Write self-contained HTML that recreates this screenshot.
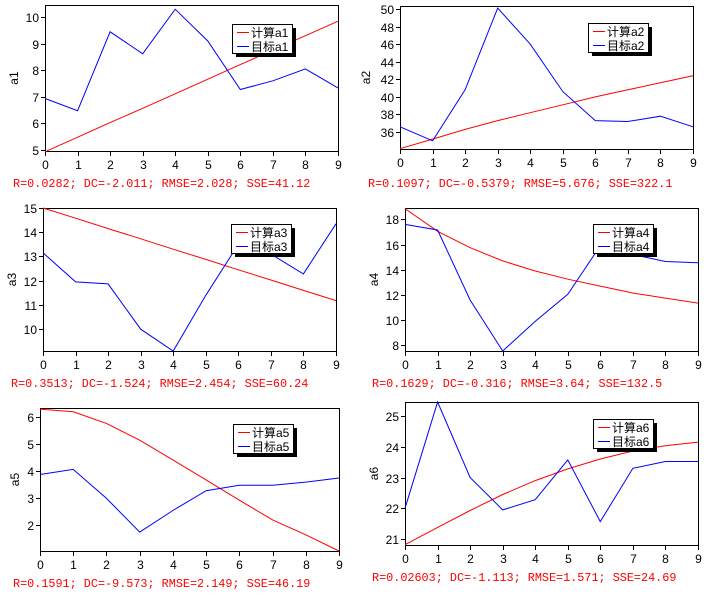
<!DOCTYPE html>
<html><head><meta charset="utf-8">
<style>
body{margin:0;background:#fff;}
svg{display:block;font-family:"Liberation Sans","Noto Sans CJK SC",sans-serif;}
line,rect{shape-rendering:crispEdges;}
</style></head>
<body>
<svg id="chart" width="722" height="605" viewBox="0 0 722 605" xmlns="http://www.w3.org/2000/svg"></svg>
<script>
const categories = [0,1,2,3,4,5,6,7,8,9];
const calcA1 = [4.92,5.47,6.02,6.56,7.11,7.66,8.21,8.76,9.30,9.85];
const targA1 = [6.93,6.47,9.45,8.62,10.3,9.1,7.27,7.6,8.05,7.33];
const calcA2 = [34.1,35.2,36.3,37.3,38.2,39.1,40.0,40.8,41.6,42.4];
const targA2 = [36.6,35.0,40.8,50.1,46.0,40.6,37.3,37.2,37.8,36.6];
const calcA3 = [15.0,14.58,14.15,13.73,13.3,12.88,12.45,12.03,11.6,11.18];
const targA3 = [13.15,11.95,11.87,10.0,9.1,11.4,13.5,13.1,12.28,14.35];
const calcA4 = [18.85,17.05,15.75,14.7,13.9,13.25,12.7,12.15,11.75,11.35];
const targA4 = [17.6,17.15,11.6,7.55,9.9,12.05,15.9,15.2,14.65,14.55];
const calcA5 = [6.3,6.2,5.77,5.15,4.42,3.68,2.93,2.2,1.65,1.05];
const targA5 = [3.88,4.07,3.0,1.75,2.55,3.28,3.48,3.48,3.6,3.75];
const calcA6 = [20.82,21.38,21.93,22.45,22.9,23.28,23.6,23.86,24.03,24.15];
const targA6 = [22.0,25.45,23.0,21.95,22.28,23.57,21.57,23.3,23.52,23.52];
const yTicks1 = [5,6,7,8,9,10];
const yTicks2 = [36,38,40,42,44,46,48,50];
const yTicks3 = [10,11,12,13,14,15];
const yTicks4 = [8,10,12,14,16,18];
const yTicks5 = [2,3,4,5,6];
const yTicks6 = [21,22,23,24,25];
const stats = ["R=0.0282; DC=-2.011; RMSE=2.028; SSE=41.12","R=0.1097; DC=-0.5379; RMSE=5.676; SSE=322.1","R=0.3513; DC=-1.524; RMSE=2.454; SSE=60.24","R=0.1629; DC=-0.316; RMSE=3.64; SSE=132.5","R=0.1591; DC=-9.573; RMSE=2.149; SSE=46.19","R=0.02603; DC=-1.113; RMSE=1.571; SSE=24.69"];
const names = ["a1","a2","a3","a4","a5","a6"];

const panels = [
 {L:45,R:338,T:5,B:151,ymin:4.95,ymax:10.46,ticks:yTicks1,c:calcA1,t:targA1,lg:[232,24],sx:13,sy:183,tx:18},
 {L:400,R:693,T:6,B:149,ymin:34.07,ymax:50.34,ticks:yTicks2,c:calcA2,t:targA2,lg:[588,23],sx:368,sy:183,tx:370},
 {L:43,R:336,T:208,B:351,ymin:9.1,ymax:15.0,ticks:yTicks3,c:calcA3,t:targA3,lg:[231,224],sx:11,sy:383,tx:16},
 {L:405,R:698,T:208,B:351,ymin:7.55,ymax:18.9,ticks:yTicks4,c:calcA4,t:targA4,lg:[593,224],sx:372,sy:383,tx:378},
 {L:40,R:339,T:408,B:551,ymin:1.05,ymax:6.34,ticks:yTicks5,c:calcA5,t:targA5,lg:[233,424],sx:13,sy:583,tx:19},
 {L:405,R:698,T:402,B:545,ymin:20.81,ymax:25.45,ticks:yTicks6,c:calcA6,t:targA6,lg:[593,419],sx:372,sy:577,tx:378}
];
const svg = document.getElementById('chart');
const NS = "http://www.w3.org/2000/svg";
function mk(tag, attrs, parent){const e=document.createElementNS(NS,tag);for(const k in attrs)e.setAttribute(k,attrs[k]);(parent||svg).appendChild(e);return e;}

panels.forEach((p,i)=>{
  const nm = names[i];
  const g = mk('g',{});
  
  
  const xs = v => p.L + (v-categories[0])/(categories[categories.length-1]-categories[0])*(p.R-p.L);
  const ys = v => p.B - (v-p.ymin)/(p.ymax-p.ymin)*(p.B-p.T);
  const box = mk('rect',{x:p.L+0.5,y:p.T+0.5,width:p.R-p.L,height:p.B-p.T,fill:'#fff',stroke:'#000','stroke-width':1},g);
  
  
  categories.forEach(c=>{
    const x = Math.round(xs(c))+0.5;
    mk('line',{x1:x,y1:p.B,x2:x,y2:p.B+5,stroke:'#000'},g);
    const t = mk('text',{x:x,y:p.B+18,'font-size':12,'text-anchor':'middle'},g);
    t.textContent = c;
    
    
  });
  p.ticks.forEach(v=>{
    const y = Math.round(ys(v))+0.5;
    mk('line',{x1:p.L-4,y1:y,x2:p.L,y2:y,stroke:'#000'},g);
    const t = mk('text',{x:p.L-6,y:y+4.5,'font-size':12,'text-anchor':'end'},g);
    t.textContent = v;
    
    
  });
  const yt = mk('text',{x:p.tx,y:(p.T+p.B)/2,'font-size':12,'text-anchor':'middle',transform:`rotate(-90 ${p.tx} ${(p.T+p.B)/2})`},g);
  yt.textContent = nm;
  
  
  const pts = arr => arr.map((v,j)=>xs(categories[j]).toFixed(1)+','+ys(v).toFixed(1)).join(' ');
  const lc = mk('polyline',{points:pts(p.c),fill:'none',stroke:'#f00','stroke-width':1},g);
  
  
  const lt = mk('polyline',{points:pts(p.t),fill:'none',stroke:'#00f','stroke-width':1},g);
  
  
  const lx=p.lg[0], ly=p.lg[1];
  const lgg = mk('g',{},g);
  
  
  mk('rect',{x:lx+4,y:ly+4,width:60,height:29,fill:'#000'},lgg);
  mk('rect',{x:lx+0.5,y:ly+0.5,width:60,height:29,fill:'#fff',stroke:'#000'},lgg);
  mk('rect',{x:lx+5,y:ly+8,width:12,height:1,fill:'#f00'},lgg);
  const t1 = mk('text',{x:lx+19,y:ly+13,'font-size':12},lgg);
  t1.textContent = '计算'+nm;
  
  
  mk('rect',{x:lx+5,y:ly+22,width:12,height:1,fill:'#00f'},lgg);
  const t2 = mk('text',{x:lx+19,y:ly+27,'font-size':12},lgg);
  t2.textContent = '目标'+nm;
  
  
  const st = mk('text',{x:p.sx,y:p.sy+4,'font-size':11.8,fill:'#f00','font-family':'"Liberation Mono",monospace'},g);
  st.textContent = stats[i];
  
  
});
</script>
</body></html>
